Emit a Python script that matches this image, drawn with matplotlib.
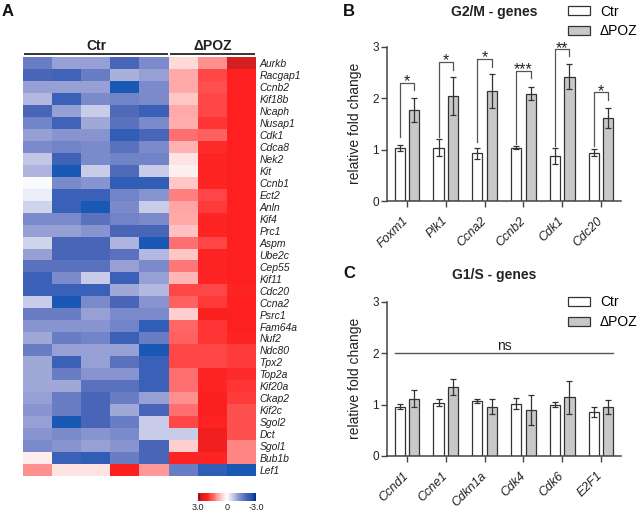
import numpy as np
import matplotlib
matplotlib.use('Agg')
import matplotlib.pyplot as plt
from matplotlib.colors import LinearSegmentedColormap

plt.rcParams['font.family'] = ['Liberation Sans', 'DejaVu Sans']

# ---------------- data ----------------
heat_genes = ['Aurkb', 'Racgap1', 'Ccnb2', 'Kif18b', 'Ncaph', 'Nusap1', 'Cdk1', 'Cdca8',
              'Nek2', 'Kit', 'Ccnb1', 'Ect2', 'Anln', 'Kif4', 'Prc1', 'Aspm', 'Ube2c',
              'Cep55', 'Kif11', 'Cdc20', 'Ccna2', 'Psrc1', 'Fam64a', 'Nuf2', 'Ndc80',
              'Tpx2', 'Top2a', 'Kif20a', 'Ckap2', 'Kif2c', 'Sgol2', 'Dct', 'Sgol1',
              'Bub1b', 'Lef1']
heat_groups = ['Ctr', 'ΔPOZ']
heat_group_sizes = [5, 3]
heat_values = [
    [-1.6, -1.1, -1.1, -2.0, -1.4, 0.4, 1.1, 2.6],
    [-2.0, -2.1, -1.6, -0.9, -1.1, 0.9, 1.7, 2.0],
    [-1.1, -1.1, -1.1, -2.6, -1.4, 0.9, 1.6, 2.0],
    [-0.8, -2.2, -1.4, -1.5, -1.4, 0.6, 1.7, 2.0],
    [-2.0, -1.1, -0.6, -1.9, -2.2, 0.9, 1.7, 2.0],
    [-1.5, -2.1, -1.0, -1.8, -1.4, 0.85, 1.85, 2.0],
    [-1.1, -1.25, -1.25, -2.3, -2.0, 1.3, 1.45, 2.0],
    [-1.4, -1.5, -1.4, -1.8, -1.4, 0.8, 1.9, 2.0],
    [-0.65, -2.1, -1.4, -1.5, -1.5, 0.3, 1.95, 2.0],
    [-0.85, -2.6, -0.6, -1.9, -0.6, 0.15, 1.95, 2.0],
    [-0.05, -1.4, -1.25, -2.3, -2.3, 0.6, 1.95, 2.0],
    [-0.2, -2.2, -2.2, -1.5, -1.25, 1.2, 1.7, 2.0],
    [-0.5, -2.2, -2.6, -1.4, -0.6, 0.95, 1.8, 2.0],
    [-1.4, -1.4, -1.8, -1.5, -1.4, 0.9, 1.95, 2.0],
    [-1.1, -1.1, -1.25, -2.0, -2.0, 0.65, 1.95, 2.0],
    [-0.5, -2.0, -2.0, -0.85, -2.6, 1.3, 1.7, 2.0],
    [-1.1, -2.0, -2.0, -1.8, -0.8, 0.6, 1.95, 2.0],
    [-1.8, -1.8, -1.8, -1.1, -1.4, 1.25, 1.95, 2.0],
    [-2.2, -1.4, -0.6, -2.2, -1.1, 0.75, 1.95, 2.0],
    [-2.2, -2.2, -2.2, -1.0, -0.8, 1.7, 1.7, 1.95],
    [-0.6, -2.6, -1.4, -2.0, -1.25, 1.45, 1.8, 2.0],
    [-1.6, -1.6, -1.1, -1.4, -1.4, 0.5, 2.05, 2.0],
    [-1.25, -1.25, -1.25, -1.5, -2.3, 1.4, 1.85, 2.0],
    [-1.0, -1.6, -1.5, -2.2, -1.6, 1.45, 1.85, 1.95],
    [-1.6, -1.1, -1.1, -1.1, -2.6, 1.7, 1.7, 1.8],
    [-1.0, -2.2, -1.1, -1.8, -2.2, 1.7, 1.7, 1.8],
    [-1.0, -1.6, -1.25, -1.25, -2.2, 1.3, 1.95, 1.9],
    [-1.0, -1.0, -1.8, -1.8, -2.2, 1.3, 1.95, 1.85],
    [-1.1, -1.6, -2.0, -1.6, -1.1, 1.1, 2.05, 1.8],
    [-1.25, -1.6, -2.0, -1.0, -2.0, 1.3, 2.05, 1.6],
    [-1.1, -2.6, -2.0, -1.6, -0.6, 1.7, 1.95, 1.6],
    [-1.25, -1.4, -1.25, -1.4, -0.6, -0.6, 2.2, 1.6],
    [-1.4, -1.25, -1.1, -1.25, -2.0, 0.5, 2.2, 1.15],
    [0.2, -2.2, -2.3, -1.6, -2.0, 1.95, 1.95, 1.15],
    [1.1, 0.3, 0.3, 2.05, 1.05, -1.6, -2.3, -2.6],
]
cbar_ticks = [3.0, 0.0, -3.0]
cbar_ticklabels = ['3.0', '0', '-3.0']

b_title = 'G2/M - genes'
b_genes = ['Foxm1', 'Plk1', 'Ccna2', 'Ccnb2', 'Cdk1', 'Cdc20']
b_ctr = [1.03, 1.04, 0.93, 1.04, 0.87, 0.94]
b_ctr_err = [0.05, 0.165, 0.11, 0.03, 0.16, 0.07]
b_poz = [1.77, 2.04, 2.14, 2.09, 2.42, 1.61]
b_poz_err = [0.23, 0.37, 0.33, 0.13, 0.25, 0.19]
b_sig = ['*', '*', '*', '***', '**', '*']
b_brk_top = [2.30, 2.71, 2.76, 2.53, 2.95, 2.11]
b_brk_left = [1.25, 1.24, 1.15, 1.11, 1.06, 1.06]
b_brk_right = [2.16, 2.55, 2.61, 2.40, 2.81, 1.96]

c_title = 'G1/S - genes'
c_genes = ['Ccnd1', 'Ccne1', 'Cdkn1a', 'Cdk4', 'Cdk6', 'E2F1']
c_ctr = [0.96, 1.04, 1.07, 1.02, 1.00, 0.86]
c_ctr_err = [0.055, 0.07, 0.04, 0.10, 0.05, 0.10]
c_poz = [1.11, 1.34, 0.96, 0.89, 1.14, 0.95]
c_poz_err = [0.165, 0.16, 0.14, 0.29, 0.32, 0.13]
c_ns_level = 2.0
c_ns_label = 'ns'

series_labels = ['Ctr', 'ΔPOZ']
y_ticks = [0, 1, 2, 3]
y_label = 'relative fold change'

# ---------------- figure ----------------
W, H = 640, 512
fig = plt.figure(figsize=(W / 100, H / 100), dpi=100)


def rect_px(x0, y0, x1, y1):
    return [x0 / W, 1 - y1 / H, (x1 - x0) / W, (y1 - y0) / H]


def fxy(x, y):
    return (x / W, 1 - y / H)


TXT = '#222222'
AXC = '#444444'

# colormap
nodes = [(-3.0, '#0b2a72'), (-2.6, '#1a58b5'), (-2.0, '#4a66b8'), (-1.4, '#7a8acb'),
         (-1.0, '#a0a8d8'), (-0.6, '#c8cce8'), (0.0, '#ffffff'), (0.5, '#ffd0d0'),
         (1.0, '#ffa0a0'), (1.3, '#ff7070'), (1.7, '#ff4848'), (2.0, '#ff2020'),
         (2.6, '#d42020'), (3.0, '#a0000c')]
cmap = LinearSegmentedColormap.from_list('hm', [((v + 3) / 6, c) for v, c in nodes])

# ---------- panel A ----------
axh = fig.add_axes(rect_px(23.3, 33.3, 256, 476))
data = np.array(heat_values)
im = axh.imshow(data, cmap=cmap, vmin=-3, vmax=3, aspect='auto', interpolation='nearest')
for s in axh.spines.values():
    s.set_visible(False)
axh.set_xticks([])
axh.yaxis.tick_right()
axh.set_yticks(np.arange(len(heat_genes)))
axh.set_yticklabels(heat_genes, fontsize=7.5, fontstyle='italic', color=TXT)
axh.tick_params(axis='y', length=0, pad=2.4)

start = -0.5
for g, n in zip(heat_groups, heat_group_sizes):
    x0, x1 = start + 0.03, start + n - 0.03
    axh.plot([x0, x1], [-0.76, -0.76], color='#111111', lw=1.2, clip_on=False,
             solid_capstyle='butt')
    axh.text((x0 + x1) / 2, -1.45, g, ha='center', va='center', fontsize=10,
             fontweight='bold', color=TXT, clip_on=False)
    start += n

fig.text(*fxy(2, 11), 'A', fontsize=12, fontweight='bold', ha='left', va='center', color='#111111')

cax = fig.add_axes(rect_px(197.7, 493, 256, 500.5))
cb = fig.colorbar(im, cax=cax, orientation='horizontal')
cb.outline.set_visible(False)
cax.invert_xaxis()
cb.set_ticks(cbar_ticks)
cb.set_ticklabels(cbar_ticklabels)
cax.tick_params(axis='x', length=0, pad=1.5, labelsize=6.5, labelcolor=TXT)


# ---------- bar panels ----------
def bar_panel(top_px, genes, ctr, ctr_err, poz, poz_err):
    ax = fig.add_axes(rect_px(386.7, top_px, 621, top_px + 154.3))
    x = np.arange(len(genes))
    w, off = 0.265, 0.187
    ekw = dict(ecolor='#333333', elinewidth=0.9, capsize=2.4, capthick=0.9)
    b1 = ax.bar(x - off, ctr, w, color='white', edgecolor='#333333', linewidth=0.9,
                yerr=ctr_err, error_kw=ekw, label=series_labels[0], zorder=2)
    b2 = ax.bar(x + off, poz, w, color='#c8c8c8', edgecolor='#333333', linewidth=0.9,
                yerr=poz_err, error_kw=ekw, label=series_labels[1], zorder=2)
    ax.set_xlim(-0.523, 5.515)
    ax.set_ylim(0, 3)
    ax.set_yticks(y_ticks)
    ax.set_yticklabels([str(t) for t in y_ticks])
    ax.set_xticks(x)
    ax.set_xticklabels(genes, rotation=45, ha='right', va='center', rotation_mode='anchor',
                       fontstyle='italic', fontsize=9, color=TXT)
    ax.tick_params(axis='y', length=4, width=1, color=AXC, labelsize=8.5, labelcolor=TXT, pad=1.5)
    ax.tick_params(axis='x', length=4, width=1, color=AXC, pad=9)
    for s in ['top', 'right']:
        ax.spines[s].set_visible(False)
    for s in ['left', 'bottom']:
        ax.spines[s].set_color(AXC)
        ax.spines[s].set_linewidth(1.1)
    ax.set_ylabel(y_label, fontsize=10, color=TXT)
    ax.yaxis.set_label_coords(-0.107, 0.5)
    return ax, x, off, w, b1, b2


axb, xb, off, w, b1, b2 = bar_panel(46.7, b_genes, b_ctr, b_ctr_err, b_poz, b_poz_err)
for i in range(len(b_genes)):
    xl, xr = xb[i] - off, xb[i] + off
    axb.plot([xl, xl, xr, xr], [b_brk_left[i], b_brk_top[i], b_brk_top[i], b_brk_right[i]],
             color='#555555', lw=0.9, clip_on=False, zorder=3)
    axb.annotate(b_sig[i], (xb[i], b_brk_top[i]), xytext=(0, -2.5), textcoords='offset points',
                 ha='center', va='baseline', fontsize=11.5, color=TXT, annotation_clip=False)
fig.text(*fxy(343, 11), 'B', fontsize=12, fontweight='bold', ha='left', va='center', color='#111111')
fig.text(*fxy(494.5, 11.7), b_title, fontsize=10, fontweight='bold', ha='center', va='center', color=TXT)
axb.legend(handles=[b1, b2], loc='upper left', bbox_to_anchor=fxy(568, 4.5), bbox_transform=fig.transFigure,
           frameon=False, fontsize=10, handlelength=1.55, handleheight=0.6, handletextpad=0.75,
           labelspacing=0.4, borderpad=0, borderaxespad=0)

axc, xc, off, w, c1, c2 = bar_panel(301.7, c_genes, c_ctr, c_ctr_err, c_poz, c_poz_err)
axc.plot([xc[0] - off - w / 2, xc[-1] + off + w / 2], [c_ns_level, c_ns_level], color='#555555', lw=1.0)
axc.annotate(c_ns_label, ((xc[0] + xc[-1]) / 2, c_ns_level), xytext=(0, 2), textcoords='offset points',
             ha='center', va='baseline', fontsize=10, color=TXT)
fig.text(*fxy(343, 273.5), 'C', fontsize=12, fontweight='bold', ha='left', va='center', color='#111111')
fig.text(*fxy(494, 275.5), c_title, fontsize=10, fontweight='bold', ha='center', va='center', color=TXT)
axc.legend(handles=[c1, c2], loc='upper left', bbox_to_anchor=fxy(568, 295.5), bbox_transform=fig.transFigure,
           frameon=False, fontsize=10, handlelength=1.55, handleheight=0.6, handletextpad=0.75,
           labelspacing=0.4, borderpad=0, borderaxespad=0)

fig.savefig('out.png', dpi=100)
